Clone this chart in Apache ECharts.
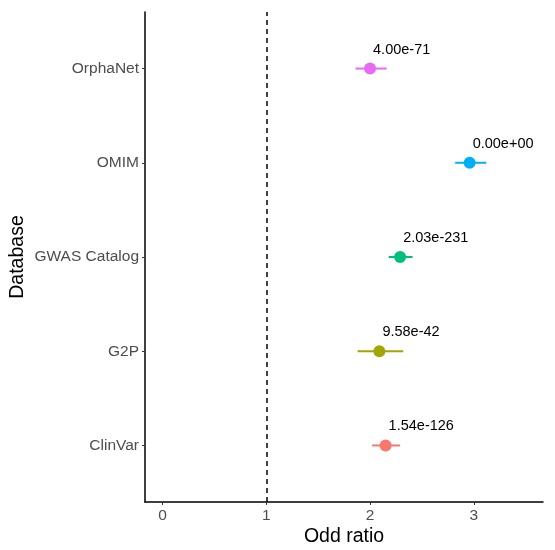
<!DOCTYPE html>
<html>
<head>
<meta charset="utf-8">
<script src="https://cdn.jsdelivr.net/npm/echarts@6/dist/echarts.min.js"></script>
<style>html,body{margin:0;padding:0;background:#fff}#c{width:555px;height:550px}</style>
</head>
<body>
<div id="c"></div>
<script>
const categories = ['ClinVar', 'G2P', 'GWAS Catalog', 'OMIM', 'OrphaNet'];
const oddRatio = [2.15, 2.09, 2.29, 2.96, 2.00];
const lowerCI = [2.02, 1.88, 2.18, 2.82, 1.86];
const upperCI = [2.29, 2.32, 2.41, 3.12, 2.16];
const pValues = ['1.54e-126', '9.58e-42', '2.03e-231', '0.00e+00', '4.00e-71'];
const colors = ['#F8766D', '#A3A500', '#00BF7D', '#00B0F6', '#E76BF3'];
const xTicks = [0, 1, 2, 3];
const refLine = 1;

const font = 'Liberation Sans, Arial, Helvetica, sans-serif';
const series = [];
categories.forEach((c, i) => {
  const y = i + 1;
  series.push({
    type: 'line', data: [[lowerCI[i], y], [upperCI[i], y]],
    symbol: 'none', lineStyle: { color: colors[i], width: 2 }, silent: true, z: 3
  });
  series.push({
    type: 'scatter', data: [[oddRatio[i], y]], symbolSize: 12,
    itemStyle: { color: colors[i], opacity: 1 }, z: 4,
    label: {
      show: true, formatter: pValues[i], position: [9, -13], align: 'left',
      verticalAlign: 'middle', color: '#000', fontSize: 14.5, fontFamily: font
    }
  });
});
series.push({
  type: 'line', data: [], markLine: {
    silent: true, symbol: 'none', label: { show: false },
    lineStyle: { color: '#000', type: [5, 4], width: 1.5 },
    data: [{ xAxis: refLine }]
  }
});

const chart = echarts.init(document.getElementById('c'), null, { renderer: 'canvas' });
chart.setOption({
  animation: false,
  backgroundColor: '#fff',
  grid: { left: 145, right: 12, top: 12, bottom: 48, containLabel: false, outerBoundsMode: 'none' },
  xAxis: {
    type: 'value', min: -0.169, max: 3.667,
    name: 'Odd ratio', nameLocation: 'middle', nameGap: 25, nameMoveOverlap: false,
    nameTextStyle: { fontSize: 19.5, color: '#000', fontFamily: font },
    axisLine: { show: true, onZero: false, lineStyle: { color: '#000', width: 1.5 } },
    axisTick: { show: true, length: 3, lineStyle: { color: '#333' }, customValues: xTicks },
    axisLabel: { customValues: xTicks, fontSize: 15.5, color: '#4D4D4D', margin: 6, fontFamily: font },
    splitLine: { show: false }
  },
  yAxis: {
    type: 'value', min: 0.4, max: 5.6,
    name: 'Database', nameLocation: 'middle', nameGap: 117, nameRotate: 90, nameMoveOverlap: false,
    nameTextStyle: { fontSize: 19.5, color: '#000', fontFamily: font },
    axisLine: { show: true, onZero: false, lineStyle: { color: '#000', width: 1.5 } },
    axisTick: { show: true, length: 3, lineStyle: { color: '#333' }, customValues: [1, 2, 3, 4, 5] },
    axisLabel: {
      customValues: [1, 2, 3, 4, 5], fontSize: 15.5, color: '#4D4D4D', margin: 6, fontFamily: font,
      formatter: v => categories[Math.round(v) - 1] || ''
    },
    splitLine: { show: false }
  },
  series: series
});
</script>
</body>
</html>
